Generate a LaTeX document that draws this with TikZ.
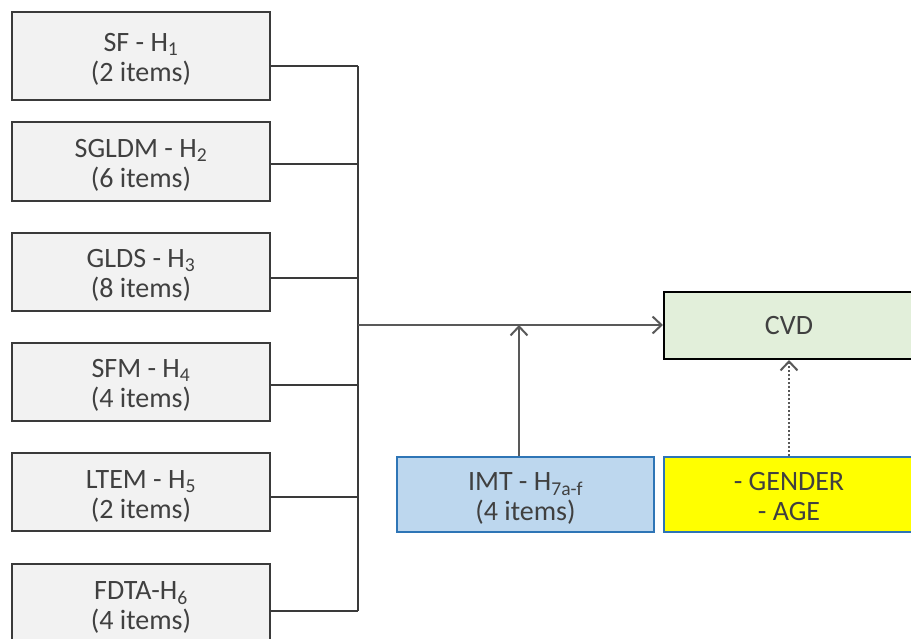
\documentclass[tikz,border=0pt]{standalone}
\usepackage{fontspec}
\setmainfont{Carlito}
\usetikzlibrary{arrows.meta,calc}
\definecolor{txt}{HTML}{404040}
\definecolor{gbox}{HTML}{F2F2F2}
\definecolor{gline}{HTML}{3A3A3A}
\definecolor{cvdfill}{HTML}{E2EFDA}
\definecolor{imtfill}{HTML}{BDD7EE}
\definecolor{blueline}{HTML}{2E75B6}
\definecolor{ylw}{HTML}{FFFF00}
\definecolor{arr}{HTML}{595959}
\tikzset{
  lbox/.style={draw=gline, line width=2pt, fill=gbox, minimum width=258pt, text=txt, align=center, font=\fontsize{28}{30}\selectfont, inner sep=0pt},
  cbox/.style={draw=black, line width=2pt, fill=cvdfill, minimum width=250pt, minimum height=67pt, text=txt, align=center, font=\fontsize{28}{30}\selectfont, inner sep=0pt},
  bbox/.style={draw=blueline, line width=2pt, minimum height=75pt, text=txt, align=center, font=\fontsize{28}{30}\selectfont, inner sep=0pt},
  conn/.style={draw=gline, line width=2pt},
  arrw/.style={draw=arr, line width=2pt, -{Straight Barb[length=9pt,width=17pt,line width=2pt]}},
  darrw/.style={draw=arr, line width=2pt, dotted, -{Straight Barb[length=9pt,width=17pt,line width=2pt]}}
}
\newcommand{\sbs}[1]{\textsubscript{#1}}
\newcommand{\twol}[2]{\raisebox{-5pt}[\height][\depth]{\begin{tabular}{@{}c@{}}#1\\#2\end{tabular}}}
\begin{document}
\begin{tikzpicture}[x=1pt,y=-1pt]
\useasboundingbox (0,0) rectangle (911,638);
\node[lbox, minimum height=88pt] (b1) at (141,55.5) {\twol{SF - H\sbs{1}}{(2 items)}};
\node[lbox, minimum height=79pt] (b2) at (141,161) {\twol{SGLDM - H\sbs{2}}{(6 items)}};
\node[lbox, minimum height=78pt] (b3) at (141,271.5) {\twol{GLDS - H\sbs{3}}{(8 items)}};
\node[lbox, minimum height=78pt] (b4) at (141,381.5) {\twol{SFM - H\sbs{4}}{(4 items)}};
\node[lbox, minimum height=78pt] (b5) at (141,492) {\twol{LTEM - H\sbs{5}}{(2 items)}};
\node[lbox, minimum height=79pt] (b6) at (141,603.5) {\twol{FDTA-H\sbs{6}}{(4 items)}};
\node[cbox] (cvd) at (789,325.5) {CVD};
\node[bbox, fill=imtfill, minimum width=257pt] (imt) at (525.5,494.5) {\twol{IMT - H\sbs{7a-f}}{(4 items)}};
\node[bbox, fill=ylw, minimum width=250pt] (gen) at (789,494.5) {\twol{- GENDER}{- AGE}};
\coordinate (t1) at (358,66);
\coordinate (t2) at (358,164);
\coordinate (t3) at (358,278);
\coordinate (t4) at (358,385);
\coordinate (t5) at (358,497);
\coordinate (t6) at (358,611);
\coordinate (j) at (358,325);
\coordinate (k) at (519,325);
\draw[conn] (b1.east |- t1) -- (t1);
\draw[conn] (b2.east |- t2) -- (t2);
\draw[conn] (b3.east |- t3) -- (t3);
\draw[conn] (b4.east |- t4) -- (t4);
\draw[conn] (b5.east |- t5) -- (t5);
\draw[conn] (b6.east |- t6) -- (t6);
\draw[conn] (t1) -- (t6);
\draw[arrw] (j) -- (cvd.west |- j);
\draw[arrw] (imt.north -| k) -- (k);
\draw[darrw] (gen.north) -- (cvd.south);
\end{tikzpicture}
\end{document}
